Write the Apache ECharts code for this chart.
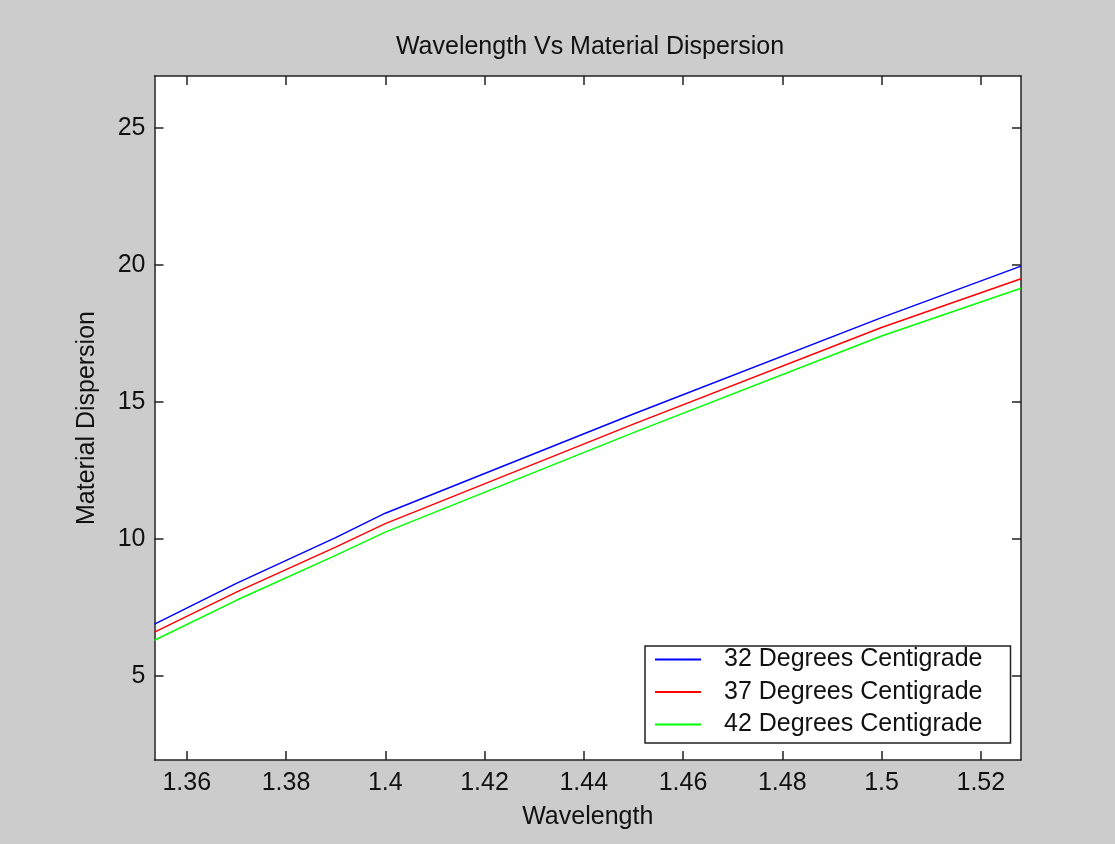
<!DOCTYPE html>
<html>
<head>
<meta charset="utf-8">
<title>Wavelength Vs Material Dispersion</title>
<script src="https://cdn.jsdelivr.net/npm/echarts@6/dist/echarts.min.js"></script>
<style>
  html, body { margin: 0; padding: 0; background: #cccccc; }
  #chart { width: 1115px; height: 844px; }
</style>
</head>
<body>
<div id="chart"></div>
<script>
// Wavelength samples (micrometres) and material dispersion per temperature
const wavelength = [1.3535, 1.37, 1.39, 1.40, 1.45, 1.50, 1.5281];
const disp32 = [6.89, 8.38, 10.05, 10.94, 14.56, 18.08, 19.96];
const disp37 = [6.60, 8.06, 9.70, 10.56, 14.19, 17.72, 19.50];
const disp42 = [6.30, 7.76, 9.40, 10.25, 13.88, 17.41, 19.15];

const seriesNames = ['32 Degrees Centigrade', '37 Degrees Centigrade', '42 Degrees Centigrade'];
const seriesColors = ['#0000ff', '#ff0000', '#00ff00'];

const xTicks = [1.36, 1.38, 1.40, 1.42, 1.44, 1.46, 1.48, 1.50, 1.52];
const yTicks = [5, 10, 15, 20, 25];

const xRange = [1.3535, 1.5281];
const yRange = [1.93, 26.9];

const FONT = '"Liberation Sans", Arial, Helvetica, sans-serif';
const INK = '#111111';
const AXIS = '#222222';

function pairs(xs, ys) { return xs.map((x, i) => [x, ys[i]]); }

const chart = echarts.init(document.getElementById('chart'), null, { renderer: 'canvas' });

const axisLineStyle = { show: true, lineStyle: { color: AXIS, width: 1.5 } };

function xAxisDef(pos, withLabels) {
  return {
    type: 'value',
    position: pos,
    min: xRange[0],
    max: xRange[1],
    axisLine: axisLineStyle,
    axisTick: { show: true, inside: true, length: 9, customValues: xTicks, lineStyle: { color: AXIS, width: 1.5 } },
    axisLabel: withLabels ? {
      show: true, customValues: xTicks, margin: 11,
      color: INK, fontSize: 25, fontFamily: FONT,
      formatter: v => String(+Number(v).toFixed(2))
    } : { show: false },
    splitLine: { show: false },
    name: withLabels ? 'Wavelength' : '',
    nameLocation: 'middle',
    nameGap: 45,
    nameTextStyle: { color: INK, fontSize: 25, fontFamily: FONT }
  };
}

function yAxisDef(pos, withLabels) {
  return {
    type: 'value',
    position: pos,
    min: yRange[0],
    max: yRange[1],
    axisLine: axisLineStyle,
    axisTick: { show: true, inside: true, length: 9, customValues: yTicks, lineStyle: { color: AXIS, width: 1.5 } },
    axisLabel: withLabels ? {
      show: true, customValues: yTicks, margin: 9,
      color: INK, fontSize: 25, fontFamily: FONT
    } : { show: false },
    splitLine: { show: false },
    name: withLabels ? 'Material Dispersion' : '',
    nameLocation: 'middle',
    nameGap: 55,
    nameTextStyle: { color: INK, fontSize: 25, fontFamily: FONT }
  };
}

const allData = [disp32, disp37, disp42];

chart.setOption({
  backgroundColor: '#cccccc',
  animation: false,
  title: {
    text: 'Wavelength Vs Material Dispersion',
    left: 585,
    textAlign: 'center',
    top: 30,
    textStyle: { color: INK, fontSize: 25, fontWeight: 'normal', fontFamily: FONT }
  },
  grid: {
    left: 154.5, top: 76, right: 94, bottom: 84,
    show: true, backgroundColor: '#ffffff', borderWidth: 0
  },
  xAxis: [xAxisDef('bottom', true), xAxisDef('top', false)],
  yAxis: [yAxisDef('left', true), yAxisDef('right', false)],
  legend: {
    orient: 'vertical',
    left: 645,
    top: 646,
    padding: [1, 28, 6, 10],
    backgroundColor: '#ffffff',
    borderColor: AXIS,
    borderWidth: 1.5,
    borderRadius: 0,
    icon: 'rect',
    itemWidth: 46,
    itemHeight: 2,
    itemGap: 7.5,
    textStyle: {
      color: INK, fontSize: 25, fontFamily: FONT,
      lineHeight: 22, padding: [0, 0, 0, 18]
    },
    data: seriesNames.map(n => ({ name: n }))
  },
  series: allData.map((vals, i) => ({
    name: seriesNames[i],
    type: 'line',
    xAxisIndex: 0,
    yAxisIndex: 0,
    data: pairs(wavelength, vals),
    symbol: 'none',
    color: seriesColors[i],
    lineStyle: { color: seriesColors[i], width: 1.5 }
  }))
});
</script>
</body>
</html>
